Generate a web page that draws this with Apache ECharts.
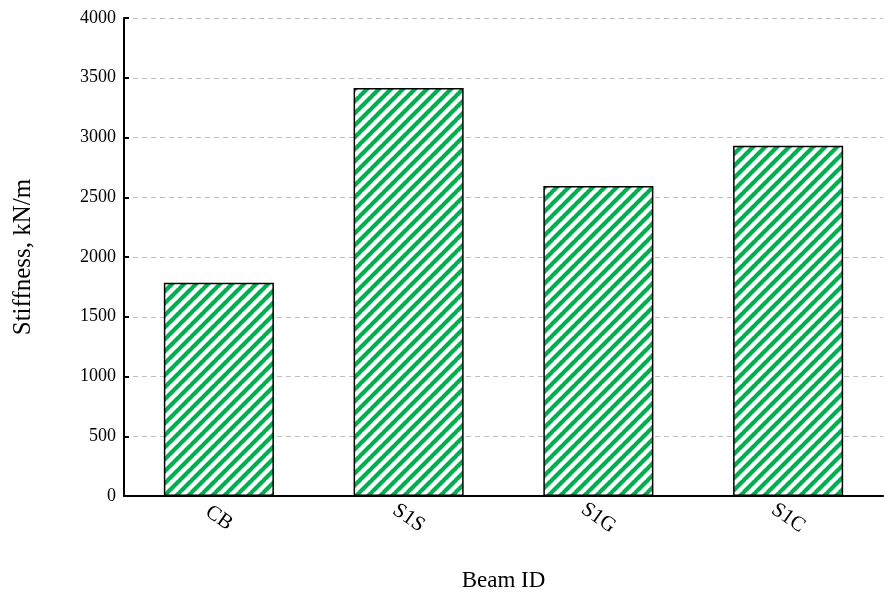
<!DOCTYPE html>
<html><head><meta charset="utf-8">
<script src="https://cdn.jsdelivr.net/npm/echarts@6/dist/echarts.min.js"></script>
<style>html,body{margin:0;padding:0;background:#fff}#c{width:884px;height:594px}</style>
</head><body><div id="c"></div>
<script>
const categories = ['CB', 'S1S', 'S1G', 'S1C'];
const stiffness = [1785, 3415, 2595, 2930];
const yTicks = [0, 500, 1000, 1500, 2000, 2500, 3000, 3500, 4000];

function hatch() {
  const s = 12;
  const c = document.createElement('canvas');
  c.width = s; c.height = s;
  const g = c.getContext('2d');
  g.fillStyle = '#fff'; g.fillRect(0, 0, s, s);
  g.strokeStyle = '#00B050'; g.lineWidth = 4.2;
  for (let k = -1; k <= 1; k++) {
    g.beginPath(); g.moveTo(k * s - 1, s + 1); g.lineTo(k * s + s + 1, -1); g.stroke();
  }
  return c;
}

const font = '"Liberation Serif", "Times New Roman", serif';
const chart = echarts.init(document.getElementById('c'));
chart.setOption({
  animation: false,
  grid: { left: 124, right: 1, top: 18, bottom: 98, outerBoundsMode: 'none', containLabel: false },
  xAxis: {
    type: 'category', data: categories,
    axisLine: { lineStyle: { color: '#000', width: 2 } },
    axisTick: { show: false },
    axisLabel: { rotate: -35, margin: 22, align: 'center', verticalAlign: 'middle', fontFamily: font, fontSize: 21, color: '#000' },
    name: 'Beam ID', nameLocation: 'middle', nameGap: 73,
    nameTextStyle: { fontFamily: font, fontSize: 23, color: '#000' }
  },
  yAxis: {
    type: 'value', min: 0, max: 4000, interval: 500,
    axisLine: { show: true, lineStyle: { color: '#000', width: 2 } },
    axisTick: { show: true, inside: true, length: 5, lineStyle: { color: '#000', width: 2 } },
    axisLabel: { margin: 8, fontFamily: font, fontSize: 18, color: '#000',
      formatter: v => yTicks.includes(v) ? String(v) : '' },
    splitLine: { show: true, lineStyle: { color: '#BFBFBF', type: [5, 4], width: 1 } },
    name: 'Stiffness, kN/m', nameLocation: 'middle', nameGap: 88,
    nameTextStyle: { fontFamily: font, fontSize: 25, color: '#000' }
  },
  series: [{
    type: 'bar', data: stiffness, barWidth: '58%',
    itemStyle: { color: { image: hatch(), repetition: 'repeat' }, borderColor: '#000', borderWidth: 1.5 }
  }]
});
</script></body></html>
